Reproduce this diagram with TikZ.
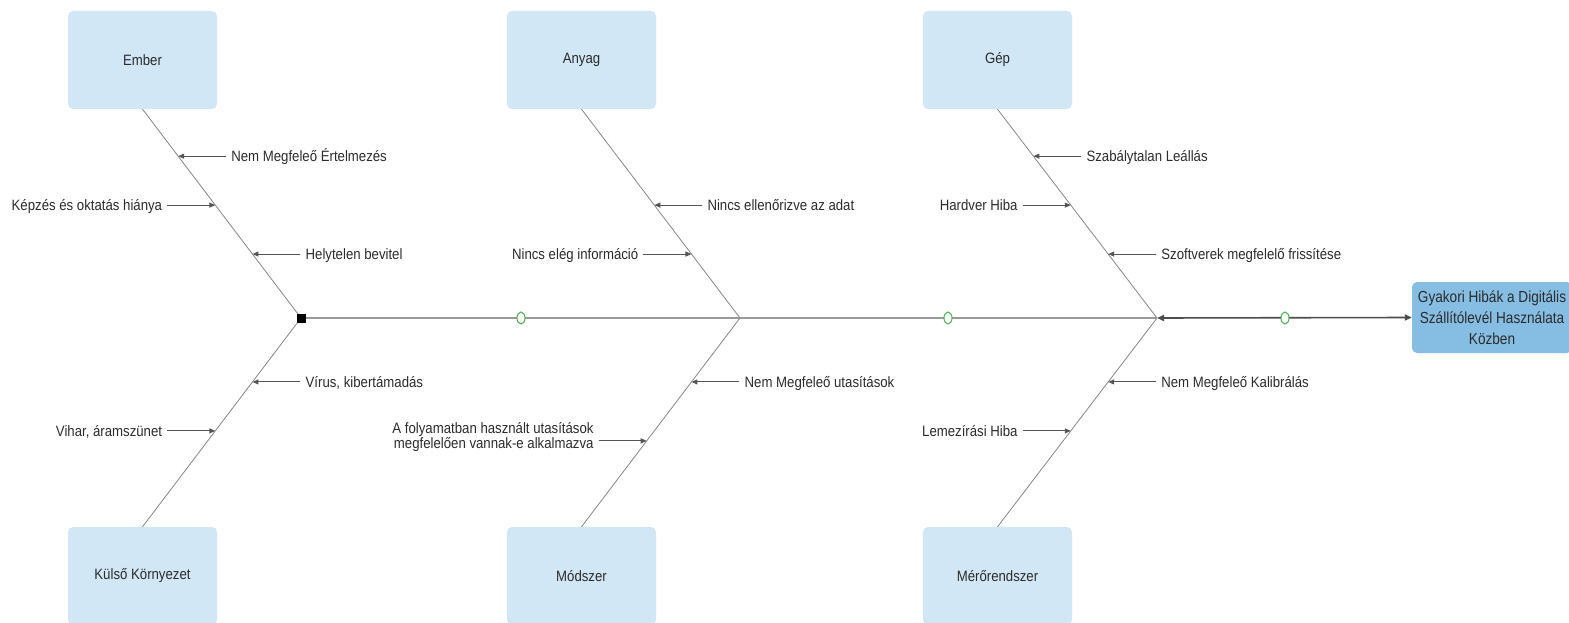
\documentclass[tikz,border=0pt]{standalone}
\usepackage{fontspec}
\setmainfont{Liberation Sans}[FakeStretch=0.88]
\newfontfamily\headfont{Liberation Sans}[FakeStretch=0.85]
\usetikzlibrary{calc,arrows.meta,shapes.geometric}
\definecolor{boxblue}{HTML}{D2E7F5}
\definecolor{headblue}{HTML}{86BEE3}
\definecolor{txt}{HTML}{2B2B2B}
\definecolor{bonegray}{HTML}{858585}
\definecolor{arrgray}{HTML}{555555}
\definecolor{headgray}{HTML}{4D4D4D}
\definecolor{spinegray}{HTML}{999999}
\definecolor{dotgreen}{HTML}{4CAF50}
\begin{document}
\begin{tikzpicture}[x=1pt,y=-1pt,
  font=\fontsize{15}{15}\selectfont, text=txt,
  catbox/.style={fill=boxblue, rounded corners=5pt, minimum width=149pt, minimum height=98pt, inner sep=0pt},
  headbox/.style={fill=headblue, rounded corners=5pt, minimum width=160pt, minimum height=71pt, inner sep=0pt, align=center, font=\headfont\fontsize{16}{21}\selectfont},
  bonel/.style={draw=bonegray, line width=0.8pt},
  spinel/.style={draw=spinegray, line width=1.2pt},
  headarr/.style={draw=headgray, line width=1.6pt, {Triangle[length=7pt,width=6pt]}-{Triangle[length=7pt,width=6pt]}},
  sub/.style={draw=arrgray, line width=1pt, -{Triangle[length=6pt,width=5pt]}},
  lbl/.style={inner xsep=5pt, inner ysep=0pt, text height=10.5pt, text depth=0pt},
  lblml/.style={inner xsep=5pt, inner ysep=0pt, align=right, font=\fontsize{15}{15}\selectfont},
  greendot/.style={draw=dotgreen, fill=white, line width=1pt, ellipse, minimum width=8pt, minimum height=12pt, inner sep=0pt},
  sqnode/.style={fill=black, minimum size=9pt, inner sep=0pt}
]
\useasboundingbox (0,0) rectangle (1569,623);

% category boxes
\node[catbox] (E) at (142.5,60) {Ember};
\node[catbox] (A) at (581.5,60) {Anyag};
\node[catbox] (G) at (997.5,60) {Gép};
\node[catbox] (K) at (142.5,576) {Külső Környezet};
\node[catbox] (M) at (581.5,576) {Módszer};
\node[catbox] (R) at (997.5,576) {Mérőrendszer};

% head
\node[headbox] (H) at (1492,317.5) {Gyakori Hibák a Digitális\\Szállítólevél Használata\\Közben};

% junctions
\coordinate (J1) at (301,318);
\coordinate (J2) at (740,318);
\coordinate (J3) at (1157,318);

% bones
\draw[bonel] (E.south) -- (J1);
\draw[bonel] (K.north) -- (J1);
\draw[bonel] (A.south) -- (J2);
\draw[bonel] (M.north) -- (J2);
\draw[bonel] (G.south) -- (J3);
\draw[bonel] (R.north) -- (J3);

% spine
\node[sqnode] (S) at (J1) {};
\draw[spinel] (S.east) -- (J3);
\draw[headarr] (J3) -- (H.west);
\node[greendot] (g1) at (521,318) {};
\node[greendot] (g2) at (948,318) {};
\node[greendot] (g3) at (1285,318) {};

% ---- Ember
\coordinate (e1) at ($(E.south)!0.2249!(J1)$);
\coordinate (e2) at ($(E.south)!0.4593!(J1)$);
\coordinate (e3) at ($(E.south)!0.6938!(J1)$);
\node[lbl, anchor=west] (le1) at ($(e1)+(48,0)$) {Nem Megfeleő Értelmezés};
\node[lbl, anchor=east] (le2) at ($(e2)+(-48,0)$) {Képzés és oktatás hiánya};
\node[lbl, anchor=west] (le3) at ($(e3)+(48,0)$) {Helytelen bevitel};
\draw[sub] (le1.west) -- (e1);
\draw[sub] (le2.east) -- (e2);
\draw[sub] (le3.west) -- (e3);

% ---- Anyag
\coordinate (a1) at ($(A.south)!0.4593!(J2)$);
\coordinate (a2) at ($(A.south)!0.6938!(J2)$);
\node[lbl, anchor=west] (la1) at ($(a1)+(48,0)$) {Nincs ellenőrizve az adat};
\node[lbl, anchor=east] (la2) at ($(a2)+(-48,0)$) {Nincs elég információ};
\draw[sub] (la1.west) -- (a1);
\draw[sub] (la2.east) -- (a2);

% ---- Gép
\coordinate (g1t) at ($(G.south)!0.2249!(J3)$);
\coordinate (g2t) at ($(G.south)!0.4593!(J3)$);
\coordinate (g3t) at ($(G.south)!0.6938!(J3)$);
\node[lbl, anchor=west] (lg1) at ($(g1t)+(48,0)$) {Szabálytalan Leállás};
\node[lbl, anchor=east] (lg2) at ($(g2t)+(-48,0)$) {Hardver Hiba};
\node[lbl, anchor=west] (lg3) at ($(g3t)+(48,0)$) {Szoftverek megfelelő frissítése};
\draw[sub] (lg1.west) -- (g1t);
\draw[sub] (lg2.east) -- (g2t);
\draw[sub] (lg3.west) -- (g3t);

% ---- Külső Környezet
\coordinate (k1) at ($(K.north)!0.6938!(J1)$);
\coordinate (k2) at ($(K.north)!0.4593!(J1)$);
\node[lbl, anchor=west] (lk1) at ($(k1)+(48,0)$) {Vírus, kibertámadás};
\node[lbl, anchor=east] (lk2) at ($(k2)+(-48,0)$) {Vihar, áramszünet};
\draw[sub] (lk1.west) -- (k1);
\draw[sub] (lk2.east) -- (k2);

% ---- Módszer
\coordinate (m1) at ($(M.north)!0.6938!(J2)$);
\coordinate (m2) at ($(M.north)!0.4115!(J2)$);
\node[lbl, anchor=west] (lm1) at ($(m1)+(48,0)$) {Nem Megfeleő utasítások};
\node[lblml, anchor=east] (lm2) at ($(m2)+(-48,-3.5)$) {A folyamatban használt utasítások\\megfelelően vannak-e alkalmazva};
\draw[sub] (lm1.west) -- (m1);
\draw[sub] (lm2.east |- m2) -- (m2);

% ---- Mérőrendszer
\coordinate (r1) at ($(R.north)!0.6938!(J3)$);
\coordinate (r2) at ($(R.north)!0.4593!(J3)$);
\node[lbl, anchor=west] (lr1) at ($(r1)+(48,0)$) {Nem Megfeleő Kalibrálás};
\node[lbl, anchor=east] (lr2) at ($(r2)+(-48,0)$) {Lemezírási Hiba};
\draw[sub] (lr1.west) -- (r1);
\draw[sub] (lr2.east) -- (r2);
\end{tikzpicture}
\end{document}
